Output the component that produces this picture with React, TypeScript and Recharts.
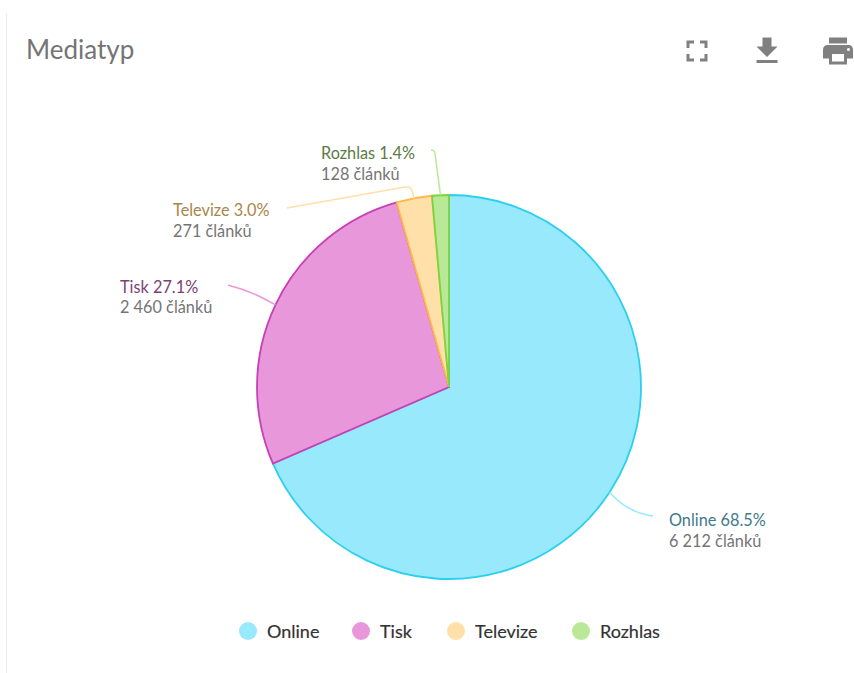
import { PieChart, Pie, Cell, Legend } from 'recharts';

const categories = ['Online', 'Tisk', 'Televize', 'Rozhlas'];
const articleCounts = [6212, 2460, 271, 128];
const percentLabels = ['68.5%', '27.1%', '3.0%', '1.4%'];
const countLabels = ['6 212 článků', '2 460 článků', '271 článků', '128 článků'];

const fills = ['#97E9FB', '#E897DA', '#FFE0A8', '#B9E997'];
const strokes = ['#2CD0EE', '#C93FB5', '#FFB84D', '#7DD33F'];
const labelColors = ['#3F7A8A', '#7E3F74', '#A8864A', '#5E7A46'];

const pieData = categories.map((name, i) => ({ name, value: articleCounts[i] }));

// where each label sits and how its connector bends on the way there
const labelLayout = [
  { x: 669, y: 526, knee: [630, 513], end: [653, 516], bend: 24 },
  { x: 120, y: 292.5, knee: [248, 290], end: [228, 285], bend: 20 },
  { x: 173, y: 216, knee: [411, 186], end: [287, 208], bend: 6 },
  { x: 321, y: 159, knee: [434.5, 150], end: [431, 150], bend: 4 },
];

// legend slots, circle start to next circle start
const legendItemWidths = [113, 95, 125, 90];

const cornerTowards = (from: number[], to: number[], dist: number) => {
  const dx = to[0] - from[0];
  const dy = to[1] - from[1];
  const len = Math.hypot(dx, dy) || 1;
  const d = Math.min(dist, len);
  return [from[0] + (dx / len) * d, from[1] + (dy / len) * d];
};

const renderLabel = (props: any) => {
  const { cx, cy, midAngle, outerRadius, index } = props;
  const layout = labelLayout[index];
  const rad = (midAngle * Math.PI) / 180;
  const start = [cx + outerRadius * Math.cos(rad), cy - outerRadius * Math.sin(rad)];
  const a = cornerTowards(layout.knee, start, layout.bend);
  const b = cornerTowards(layout.knee, layout.end, layout.bend);
  const d = `M${start[0]},${start[1]} L${a[0]},${a[1]} Q${layout.knee[0]},${layout.knee[1]} ${b[0]},${b[1]} L${layout.end[0]},${layout.end[1]}`;
  return (
    <g key={categories[index]}>
      <path d={d} fill="none" stroke={fills[index]} strokeWidth={1.5} />
      <text x={layout.x} y={layout.y} fontFamily="Lato" fontSize={16.3}>
        <tspan fill={labelColors[index]}>{`${categories[index]} ${percentLabels[index]}`}</tspan>
        <tspan x={layout.x} dy={20.5} fill="#757575">
          {countLabels[index]}
        </tspan>
      </text>
    </g>
  );
};

const renderLegend = () => (
  <div style={{ display: 'flex', alignItems: 'center', fontFamily: 'Lato', fontSize: 18, color: '#333', WebkitTextStroke: '0.2px #333' }}>
    {categories.map((name, i) => (
      <div key={name} style={{ display: 'flex', alignItems: 'center', width: legendItemWidths[i] }}>
        <span style={{ width: 18, height: 18, borderRadius: 9, background: fills[i], marginRight: 10 }} />
        <span>{name}</span>
      </div>
    ))}
  </div>
);

const iconPaths = [
  { left: 678.5, d: 'M7 14H5v5h5v-2H7v-3zm-2-4h2V7h3V5H5v5zm12 7h-3v2h5v-5h-2v3zM14 5v2h3v3h2V5h-5z' },
  { left: 749, d: 'M19 9h-4V3H9v6H5l7 7 7-7zM5 18v2h14v-2H5z' },
  { left: 820, d: 'M19 8H5c-1.66 0-3 1.34-3 3v6h4v4h12v-4h4v-6c0-1.66-1.34-3-3-3zm-3 11H8v-5h8v5zm3-7c-.55 0-1-.45-1-1s.45-1 1-1 1 .45 1 1-.45 1-1 1zm-1-9H6v4h12V3z' },
];

export default function App() {
  return (
    <div style={{ position: 'absolute', left: 0, top: 0, width: 854, height: 673, overflow: 'hidden', background: '#fff' }}>
      <div style={{ position: 'absolute', left: 6, top: 13, width: 1, height: 660, background: '#EEEEEE' }} />
      <div style={{ position: 'absolute', left: 26, top: 34, fontFamily: 'Lato', fontSize: 26, lineHeight: '30px', color: '#757575' }}>
        Mediatyp
      </div>
      {iconPaths.map((icon) => (
        <svg
          key={icon.left}
          viewBox="0 0 24 24"
          width={36}
          height={36}
          style={{ position: 'absolute', left: icon.left, top: 32.5 }}
        >
          <path d={icon.d} fill="#808080" />
        </svg>
      ))}
      <PieChart
        width={854}
        height={673}
        margin={{ top: 0, right: 0, bottom: 0, left: 0 }}
        style={{ position: 'absolute', left: 0, top: 0 }}
      >
        <Pie
          data={pieData}
          dataKey="value"
          nameKey="name"
          cx={449}
          cy={387}
          outerRadius={192}
          startAngle={90}
          endAngle={-270}
          label={renderLabel}
          labelLine={false}
          isAnimationActive={false}
        >
          {pieData.map((entry, i) => (
            <Cell key={entry.name} fill={fills[i]} stroke={strokes[i]} strokeWidth={1.8} />
          ))}
        </Pie>
        <Legend
          content={renderLegend}
          layout="horizontal"
          wrapperStyle={{ left: 239, top: 620, width: 520, height: 22 }}
        />
      </PieChart>
    </div>
  );
}
